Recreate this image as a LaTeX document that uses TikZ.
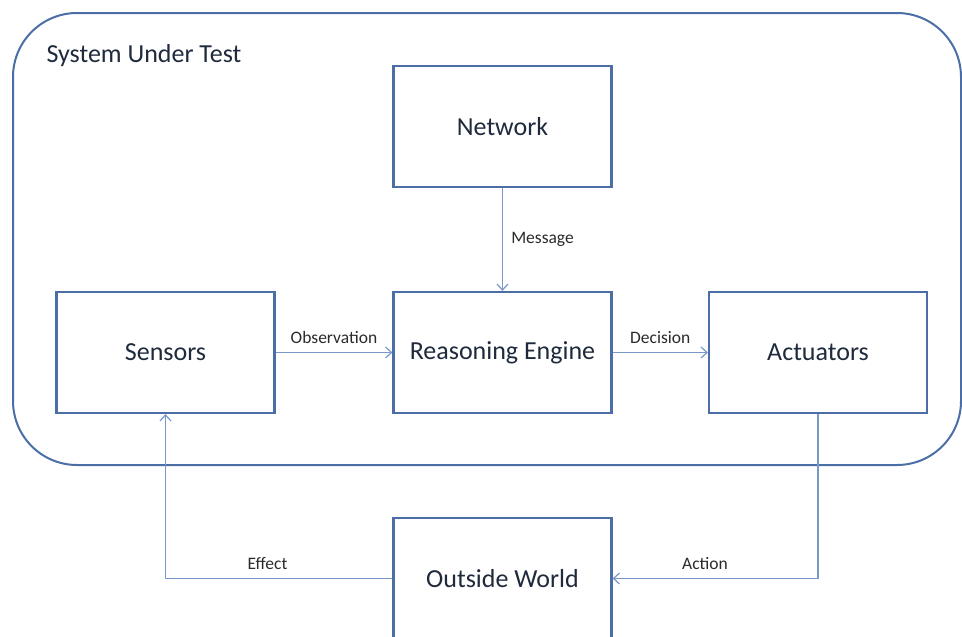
\documentclass[tikz,border=0pt]{standalone}
\usepackage{fontspec}
\setmainfont{Carlito}
\usetikzlibrary{arrows.meta}
\definecolor{boxline}{HTML}{4A6EA5}
\definecolor{linkline}{HTML}{7898CC}
\definecolor{boxtext}{HTML}{1F2A3C}
\definecolor{labeltext}{HTML}{2A2A2A}
\begin{document}
\begin{tikzpicture}[x=1pt,y=-1pt,
  block/.style={draw=boxline,line width=2.2pt,fill=white,minimum width=218pt,
    minimum height=121pt,inner sep=0pt,text=boxtext,font=\fontsize{26}{30}\selectfont},
  link/.style={draw=linkline,line width=1.5pt,-{Straight Barb[length=6pt,width=11pt,line width=1.2pt]}},
  lbl/.style={text=labeltext,font=\fontsize{17.5}{20}\selectfont,inner sep=0pt}]
  \useasboundingbox (0,0) rectangle (962,637);
  % system boundary
  \draw[boxline,line width=2pt,rounded corners=64pt] (13,13) rectangle (961,465);
  \node[anchor=west,text=boxtext,font=\fontsize{26}{30}\selectfont] (sut) at (43,56) {System Under Test};
  % components
  \node[block] (net) at (502.5,126.5) {Network};
  \node[block] (sens) at (165.5,352.5) {Sensors};
  \node[block] (reas) at (502.5,352.5) {Reasoning Engine};
  \node[block] (act) at (818,352.5) {Actuators};
  \node[block] (world) at (502.5,578.5) {Outside World};
  % flows
  \draw[link] (net.south) -- (reas.north) node[lbl,pos=0.5,anchor=west,xshift=8pt] {Message};
  \draw[link] (sens.east) -- (reas.west) node[lbl,midway,yshift=15pt] {Observation};
  \draw[link] (reas.east) -- (act.west) node[lbl,midway,yshift=15pt] {Decision};
  \coordinate (actdn) at (act.south |- world.east);
  \draw[link] (act.south) -- (actdn) -- (world.east) node[lbl,pos=0.55,yshift=15pt] {Action};
  \coordinate (sensdn) at (sens.south |- world.west);
  \draw[link] (world.west) -- (sensdn) node[lbl,pos=0.55,yshift=15pt] {Effect} -- (sens.south);
\end{tikzpicture}
\end{document}
